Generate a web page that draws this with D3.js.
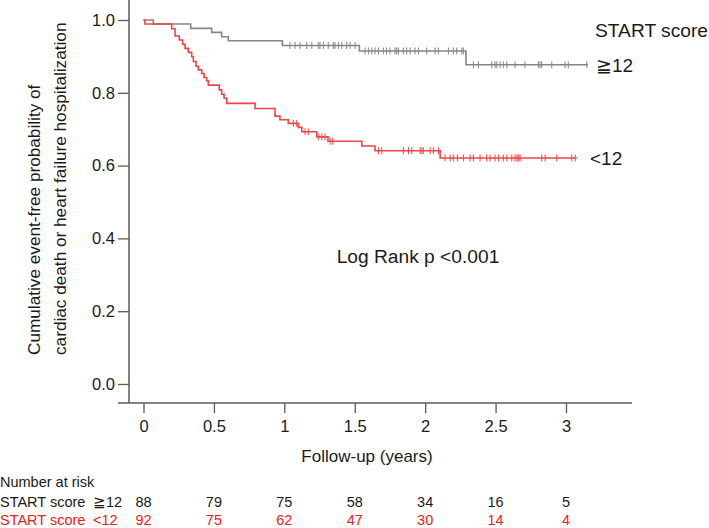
<!DOCTYPE html>
<html>
<head>
<meta charset="utf-8">
<script src="https://cdn.jsdelivr.net/npm/d3@7"></script>
<style>
  html, body { margin: 0; padding: 0; background: #fff; }
  svg { display: block; }
  text { font-family: "Liberation Sans", Arial, Helvetica, sans-serif; fill: #1a1a1a; }
</style>
</head>
<body>
<svg id="chart" width="709" height="528"></svg>
<script>
// ---------- data ----------
const highLabel = "≧12";
const lowLabel = "<12";
// survival steps [time (years), survival]
const highSteps = [[0,1],[0.07,0.989],[0.335,0.977],[0.484,0.966],[0.555,0.954],[0.602,0.943],[0.986,0.930],[1.533,0.915],[2.290,0.877],[3.157,0.877]];
const lowSteps = [[0,1],[0.01,0.989],[0.200,0.976],[0.224,0.956],[0.254,0.945],[0.278,0.933],[0.295,0.922],[0.318,0.911],[0.342,0.899],[0.354,0.886],[0.373,0.873],[0.389,0.863],[0.413,0.853],[0.430,0.842],[0.449,0.833],[0.460,0.821],[0.538,0.808],[0.555,0.796],[0.572,0.785],[0.591,0.771],[0.792,0.757],[0.934,0.736],[0.969,0.726],[1.028,0.716],[1.099,0.705],[1.124,0.693],[1.230,0.679],[1.310,0.667],[1.550,0.654],[1.644,0.641],[2.106,0.621],[3.077,0.621]];
// censor times
const highCensor = [1.040,1.076,1.112,1.159,1.195,1.241,1.253,1.277,1.312,1.348,1.360,1.384,1.408,1.443,1.467,1.502,
  1.573,1.597,1.621,1.644,1.668,1.703,1.726,1.750,1.786,1.798,1.810,1.845,1.869,1.893,1.928,1.952,2.011,2.070,2.094,2.165,2.200,2.224,2.260,2.271,
  2.342,2.378,2.473,2.496,2.509,2.532,2.555,2.580,2.638,2.709,2.804,2.816,2.828,2.899,2.993,3.016,3.148];
const lowCensor = [1.064,1.088,1.147,1.170,1.241,1.266,1.289,1.325,1.344,
  1.668,1.692,1.845,1.881,1.905,1.964,1.976,1.987,2.035,2.058,2.094,
  2.141,2.177,2.200,2.229,2.271,2.319,2.342,2.390,2.437,2.461,2.496,2.520,2.555,2.580,2.615,2.638,2.651,2.662,2.674,2.828,2.852,2.935,3.041,3.065];
const xTicks = [0,0.5,1,1.5,2,2.5,3];
const yTicks = [0,0.2,0.4,0.6,0.8,1.0];
const riskHigh = [88,79,75,58,34,16,5];
const riskLow = [92,75,62,47,30,14,4];

// ---------- drawing ----------
const svg = d3.select("#chart");
const grayCol = "#858585";
const redCol = "#ec4646";
const redText = "#e8221b";
const axisCol = "#5a5a5a";

const x = d3.scaleLinear().domain([0,3]).range([143.5,566]);
const y = d3.scaleLinear().domain([0,1]).range([384,20]);

// axes lines
svg.append("line").attr("x1",129).attr("x2",129).attr("y1",0).attr("y2",403)
  .attr("stroke",axisCol).attr("stroke-width",1.5);
svg.append("line").attr("x1",118).attr("x2",632).attr("y1",403).attr("y2",403)
  .attr("stroke",axisCol).attr("stroke-width",1.5);

const yAxis = d3.axisLeft(y).tickValues(yTicks).tickFormat(d3.format(".1f")).tickSize(11).tickPadding(3);
const gy = svg.append("g").attr("transform","translate(129,0)").call(yAxis);
gy.select(".domain").remove();
gy.selectAll("line").attr("stroke",axisCol).attr("stroke-width",1.3);
gy.selectAll("text").style("font-size","16.5px").attr("fill","#1a1a1a")
  .style("font-family","'Liberation Sans', Arial, sans-serif");

const xAxis = d3.axisBottom(x).tickValues(xTicks).tickFormat(d => String(d)).tickSize(10).tickPadding(7);
const gx = svg.append("g").attr("transform","translate(0,403)").call(xAxis);
gx.select(".domain").remove();
gx.selectAll("line").attr("stroke",axisCol).attr("stroke-width",1.3);
gx.selectAll("text").style("font-size","16.5px").attr("fill","#1a1a1a")
  .style("font-family","'Liberation Sans', Arial, sans-serif");

// axis titles
svg.append("text").attr("x",367).attr("y",462).attr("text-anchor","middle")
  .style("font-size","17px").text("Follow-up (years)");
const yl = svg.append("g").attr("transform","translate(0,355) rotate(-90)");
yl.append("text").attr("x",0).attr("y",40).style("font-size","17.2px").text("Cumulative event-free probability of");
yl.append("text").attr("x",0).attr("y",66).style("font-size","17.2px").text("cardiac death or heart failure hospitalization");

// curves
const line = d3.line().x(d => x(d[0])).y(d => y(d[1])).curve(d3.curveStepAfter);
function survAt(steps, t) {
  let v = steps[0][1];
  for (const s of steps) { if (s[0] <= t) v = s[1]; }
  return v;
}
function drawCurve(steps, cens, col) {
  svg.append("path").datum(steps).attr("d", line).attr("fill","none")
    .attr("stroke", col).attr("stroke-width",1.6);
  svg.append("g").selectAll("line").data(cens).join("line")
    .attr("x1", d => x(d)).attr("x2", d => x(d))
    .attr("y1", d => y(survAt(steps,d)) - 3.5).attr("y2", d => y(survAt(steps,d)) + 3.5)
    .attr("stroke", col).attr("stroke-width",1);
}
drawCurve(highSteps, highCensor, grayCol);
drawCurve(lowSteps, lowCensor, redCol);

// legend labels
svg.append("text").attr("x",595).attr("y",37).style("font-size","19.2px").text("START score");
svg.append("text").attr("x",596).attr("y",72).style("font-size","19px").text(highLabel);
svg.append("text").attr("x",590).attr("y",165).style("font-size","19px").text(lowLabel);

svg.append("text").attr("x",418).attr("y",263).attr("text-anchor","middle")
  .style("font-size","19.2px").text("Log Rank p <0.001");

// number at risk
svg.append("text").attr("x",0).attr("y",487).style("font-size","14.5px").text("Number at risk");
svg.append("text").attr("x",0).attr("y",507).style("font-size","14.5px").text("START score");
svg.append("text").attr("x",93).attr("y",507).style("font-size","14.5px").text(highLabel);
svg.append("text").attr("x",0).attr("y",525).style("font-size","14.5px").style("fill",redText).text("START score");
svg.append("text").attr("x",93).attr("y",525).style("font-size","14.5px").style("fill",redText).text(lowLabel);
svg.append("g").selectAll("text").data(riskHigh).join("text")
  .attr("x",(d,i) => x(xTicks[i])).attr("y",507).attr("text-anchor","middle")
  .style("font-size","14.5px").text(d => d);
svg.append("g").selectAll("text").data(riskLow).join("text")
  .attr("x",(d,i) => x(xTicks[i])).attr("y",525).attr("text-anchor","middle")
  .style("font-size","14.5px").style("fill",redText).text(d => d);
</script>
</body>
</html>
